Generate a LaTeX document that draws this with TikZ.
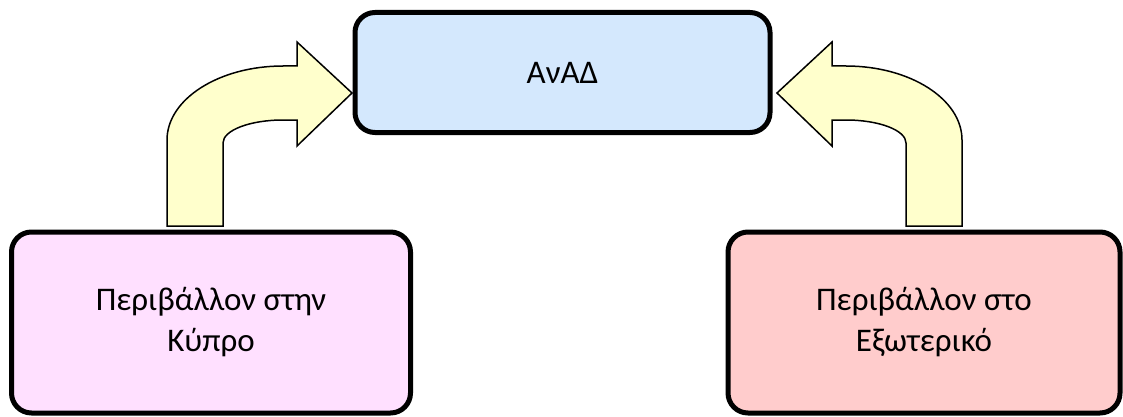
\documentclass[tikz,border=0pt]{standalone}
\usepackage{fontspec}
\setmainfont{Carlito}
\usepackage{tikz}
\usetikzlibrary{positioning}

\definecolor{anadblue}{RGB}{212,232,253}
\definecolor{cypruspink}{RGB}{255,224,255}
\definecolor{abroadred}{RGB}{255,204,204}
\definecolor{arrowyellow}{RGB}{255,255,204}

% outline of one bent block arrow (left one, mirrored for the right)
\newcommand{\bentpath}{(167,190) -- (167,276)
    arc[start angle = 180, end angle = 90, x radius = 116, y radius = 74]
    -- (297,350) -- (297,374) -- (352,323) -- (297,270) -- (297,296) -- (283,296)
    arc[start angle = 90, end angle = 180, x radius = 60, y radius = 23]
    -- (223,190) -- cycle}

\begin{document}
\begin{tikzpicture}[
            x = 1pt, y = 1pt, % work in pixels of the page
            semithick
        ]

        \tikzstyle{box}=[
            draw = black,
            line width = 5pt,
            rounded corners = 20pt,
            align = center,
            font = \fontsize{33}{41}\selectfont
        ]
        \tikzstyle{bent}=[
            draw = black,
            line width = 1.5pt,
            fill = arrowyellow
        ]

        \useasboundingbox (0,0) rectangle (1123,416);

        \node[box] (anad) [fill = anadblue, minimum width = 415pt, minimum height = 120pt] at (562.5,343.5) {ΑνΑΔ};
        \node[box] (cyprus) [fill = cypruspink, minimum width = 399pt, minimum height = 181pt] at (211,93.5) {Περιβάλλον στην\\Κύπρο};
        \node[box] (abroad) [fill = abroadred, minimum width = 392pt, minimum height = 181pt] at (924,93.5) {Περιβάλλον στο\\Εξωτερικό};

        \path[bent] \bentpath;
        \begin{scope}[xshift = 1129pt, xscale = -1]
            \path[bent] \bentpath;
        \end{scope}
    \end{tikzpicture}
\end{document}
